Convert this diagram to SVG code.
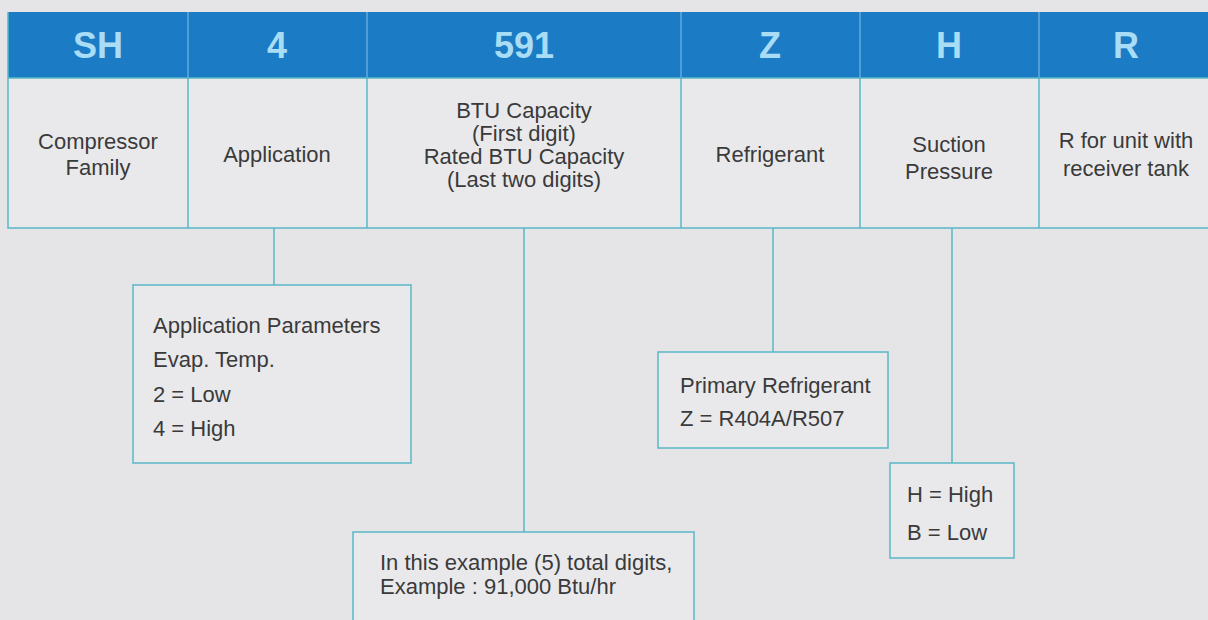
<svg xmlns="http://www.w3.org/2000/svg" width="1208" height="620" viewBox="0 0 1208 620">
<style>
.hd{font-family:"Liberation Sans",Arial,sans-serif;font-weight:bold;font-size:36px;fill:#a9dcf5;text-anchor:middle}
.tx{font-family:"Liberation Sans",Arial,sans-serif;font-size:22px;fill:#3a3a3a}
.c{text-anchor:middle}
.ln{stroke:#5ab7c6;stroke-width:1.5;fill:none}
.box{fill:#e9e9ec;stroke:#5ab7c6;stroke-width:1.5}
</style>
<rect x="0" y="0" width="1208" height="620" fill="#e5e5e8"/>
<g id="table">
<rect x="8" y="12" width="1202" height="216" fill="#e9e9ec"/>
<rect x="8" y="12" width="1202" height="66" fill="#1b7cc5"/>
<path class="ln" d="M8 12 V228 H1210 M8 78 H1210"/>
<path d="M188 12 V78 M367 12 V78 M681 12 V78 M860 12 V78 M1039 12 V78" stroke="#63a9dc" stroke-width="1.5"/>
<path class="ln" d="M188 78 V228 M367 78 V228 M681 78 V228 M860 78 V228 M1039 78 V228"/>
</g>
<g id="col-sh">
<text class="hd" x="98" y="58">SH</text>
<text class="tx c" x="98" y="149">Compressor</text>
<text class="tx c" x="98" y="175">Family</text>
</g>
<g id="col-4">
<text class="hd" x="277" y="58">4</text>
<text class="tx c" x="277" y="162">Application</text>
</g>
<g id="col-591">
<text class="hd" x="524" y="58">591</text>
<text class="tx c" x="524" y="118">BTU Capacity</text>
<text class="tx c" x="524" y="141">(First digit)</text>
<text class="tx c" x="524" y="164">Rated BTU Capacity</text>
<text class="tx c" x="524" y="187">(Last two digits)</text>
</g>
<g id="col-z">
<text class="hd" x="770" y="58">Z</text>
<text class="tx c" x="770" y="162">Refrigerant</text>
</g>
<g id="col-h">
<text class="hd" x="949" y="58">H</text>
<text class="tx c" x="949" y="152">Suction</text>
<text class="tx c" x="949" y="179">Pressure</text>
</g>
<g id="col-r">
<text class="hd" x="1126" y="58">R</text>
<text class="tx c" x="1126" y="148">R for unit with</text>
<text class="tx c" x="1126" y="176">receiver tank</text>
</g>
<g id="connectors">
<path class="ln" d="M274 228 V285 M524 228 V532 M773 228 V352 M952 228 V463"/>
</g>
<g id="app-box">
<rect class="box" x="133" y="285" width="278" height="178"/>
<text class="tx" x="153" y="333">Application Parameters</text>
<text class="tx" x="153" y="367">Evap. Temp.</text>
<text class="tx" x="153" y="402">2 = Low</text>
<text class="tx" x="153" y="436">4 = High</text>
</g>
<g id="btu-box">
<rect class="box" x="353" y="532" width="341" height="100"/>
<text class="tx" x="380" y="570">In this example (5) total digits,</text>
<text class="tx" x="380" y="594">Example : 91,000 Btu/hr</text>
</g>
<g id="ref-box">
<rect class="box" x="658" y="352" width="230" height="96"/>
<text class="tx" x="680" y="393">Primary Refrigerant</text>
<text class="tx" x="680" y="426">Z = R404A/R507</text>
</g>
<g id="suction-box">
<rect class="box" x="890" y="463" width="124" height="95"/>
<text class="tx" x="907" y="502">H = High</text>
<text class="tx" x="907" y="540">B = Low</text>
</g>
</svg>
